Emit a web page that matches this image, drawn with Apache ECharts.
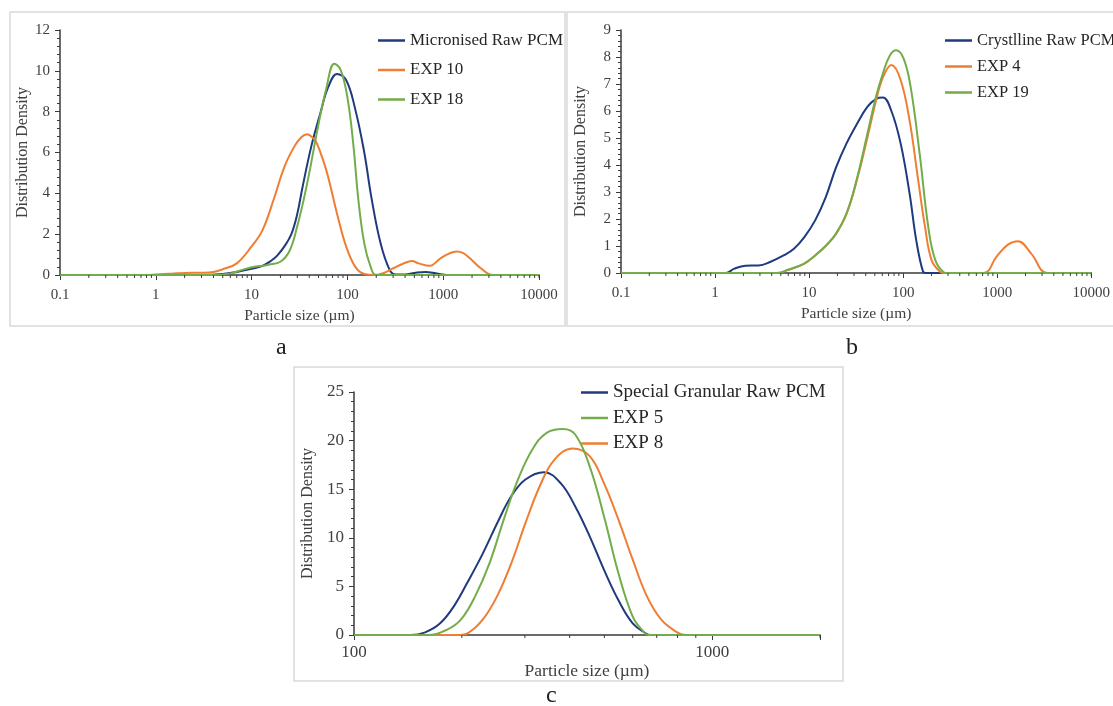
<!DOCTYPE html>
<html>
<head>
<meta charset="utf-8">
<script src="https://cdn.jsdelivr.net/npm/echarts@6/dist/echarts.min.js"></script>
<style>
html,body{margin:0;padding:0;background:#fff;}
#chart{width:1113px;height:706px;}
</style>
</head>
<body>
<div id="chart"></div>
<script>
// ---------- DATA (particle size in µm, distribution density) ----------
const aRawName = 'Micronised Raw PCM';
const aRaw = [[0.1,0],[3,0],[5,0.05],[7,0.15],[10,0.3],[13,0.45],[16,0.7],[18.5,0.95],[22,1.4],[26,2.0],[30,3.0],[34,4.3],[42,6.3],[52,7.9],[63,9.2],[78,9.85],[97,9.55],[121,8.1],[150,6.0],[178,3.8],[222,1.55],[276,0.25],[320,0.02],[400,0.03],[500,0.1],[650,0.15],[850,0.08],[1100,0],[10000,0]];
const aExp10Name = 'EXP 10';
const aExp10 = [[0.1,0],[0.8,0],[1,0.03],[1.5,0.07],[2,0.1],[3,0.11],[4,0.15],[5,0.28],[7,0.57],[10,1.4],[13,2.2],[17,3.7],[22,5.3],[28,6.3],[33,6.75],[38,6.9],[44,6.7],[48,6.45],[56,5.6],[63,4.8],[78,3.0],[97,1.4],[121,0.4],[150,0.05],[195,0],[240,0.1],[300,0.33],[380,0.55],[470,0.68],[555,0.57],[720,0.45],[940,0.82],[1150,1.05],[1380,1.15],[1600,1.08],[1900,0.82],[2470,0.33],[3300,0],[10000,0]];
const aExp18Name = 'EXP 18';
const aExp18 = [[0.1,0],[4,0],[6,0.08],[8,0.25],[10,0.38],[13,0.45],[15,0.5],[20,0.65],[25,1.2],[30,2.4],[35,3.7],[40,5.0],[50,7.4],[60,9.1],[73,10.35],[85,10.05],[100,8.7],[115,6.45],[130,3.7],[150,1.55],[175,0.4],[200,0],[10000,0]];

const bRawName = 'Crystlline Raw PCM';
const bRaw = [[0.1,0],[1.3,0],[1.6,0.16],[2.1,0.27],[2.9,0.28],[3.8,0.4],[5.35,0.65],[6.9,0.9],[8.9,1.33],[11.6,1.95],[15,2.8],[19.3,3.9],[25,4.8],[32,5.5],[41.6,6.15],[51.6,6.45],[61,6.5],[75,6.0],[94,4.8],[117,2.95],[138,1.2],[163,0.04],[175,0],[10000,0]];
const bExp4Name = 'EXP 4';
const bExp4 = [[0.1,0],[4.5,0],[6,0.12],[8.9,0.35],[11.6,0.65],[15,1.0],[19.3,1.45],[25,2.2],[32,3.4],[41.6,5.0],[51.6,6.4],[61,7.25],[75,7.7],[94,7.15],[117,5.65],[145,3.4],[171,1.7],[201,0.47],[250,0.03],[270,0],[720,0],[980,0.6],[1300,1.05],[1660,1.18],[2300,0.72],[3430,0],[10000,0]];
const bExp19Name = 'EXP 19';
const bExp19 = [[0.1,0],[4.5,0],[6,0.12],[8.9,0.35],[11.6,0.65],[15,1.0],[19.3,1.45],[25,2.2],[32,3.45],[41.6,5.15],[51.6,6.55],[61,7.4],[72,8.05],[84,8.25],[101,7.95],[120,6.9],[150,4.4],[185,1.7],[220,0.47],[272,0.02],[290,0],[10000,0]];

const cRawName = 'Special Granular Raw PCM';
const cRaw = [[100,0],[144,0],[158,0.27],[174,1.2],[190,2.95],[208,5.5],[229,8.4],[251,11.5],[275,14.3],[301,16.0],[339,16.75],[378,15.6],[415,13.2],[455,10.15],[499,6.7],[547,3.6],[600,1.2],[657,0.1],[670,0],[2000,0]];
const cExp5Name = 'EXP 5';
const cExp5 = [[100,0],[160,0],[182,0.55],[199,1.6],[218,4.0],[239,7.4],[262,11.9],[287,16.0],[315,19.1],[345,20.8],[383,21.2],[415,20.6],[455,17.35],[499,12.2],[547,6.4],[600,1.9],[642,0.38],[664,0],[2000,0]];
const cExp8Name = 'EXP 8';
const cExp8 = [[100,0],[195,0],[208,0.2],[229,1.6],[251,4.0],[275,7.4],[301,11.5],[330,15.3],[362,18.0],[408,19.2],[455,18.4],[499,15.6],[547,11.9],[600,7.75],[657,4.0],[720,1.6],[790,0.38],[845,0],[2000,0]];

// axis ranges / labels
const aXRange = [0.1, 10000], aYRange = [0, 12], aYStep = 2;
const bXRange = [0.1, 10000], bYRange = [0, 9], bYStep = 1;
const cXRange = [100, 2000], cYRange = [0, 25], cYStep = 5;
const xTitle = 'Particle size (µm)';
const yTitle = 'Distribution Density';
const panelLabels = ['a', 'b', 'c'];

// ---------- STYLE ----------
const NAVY = '#1f3a7e', ORANGE = '#ef7d32', GREEN = '#72ad4a';
const FONT = 'Liberation Serif';
const TXT = '#404040';
const AX = '#3a3a3a';

function minorLogTicks(range) {
  const out = [];
  const lo = Math.floor(Math.log10(range[0])), hi = Math.ceil(Math.log10(range[1]));
  for (let e = lo; e < hi; e++) {
    for (let m = 2; m <= 9; m++) {
      const v = m * Math.pow(10, e);
      if (v > range[0] && v < range[1]) out.push([v, 0]);
    }
  }
  out.push([range[1], 0]);
  return out;
}

function xAxisCfg(gi, range, fs, nameFs, nameGap, margin) {
  return {
    type: 'log', logBase: 10, gridIndex: gi, min: range[0], max: range[1],
    name: xTitle, nameLocation: 'middle', nameGap: nameGap,
    nameTextStyle: {fontFamily: FONT, fontSize: nameFs, color: TXT},
    axisLine: {show: true, onZero: false, lineStyle: {color: AX, width: 1.5}},
    axisTick: {show: true, length: 5, lineStyle: {color: AX}},
    axisLabel: {fontFamily: FONT, fontSize: fs, color: TXT, margin: margin,
      formatter: function (v) {
        const l = Math.log10(v);
        if (Math.abs(l - Math.round(l)) > 1e-6) return '';
        const r = Math.round(l);
        return r < 0 ? String(Math.pow(10, r).toFixed(-r)) : String(Math.pow(10, r));
      }},
    splitLine: {show: false}
  };
}
function yAxisCfg(gi, range, step, fs, nameFs, nameGap) {
  return {
    type: 'value', gridIndex: gi, min: range[0], max: range[1], interval: step,
    name: yTitle, nameLocation: 'middle', nameGap: nameGap,
    nameTextStyle: {fontFamily: FONT, fontSize: nameFs, color: TXT},
    axisLine: {show: true, lineStyle: {color: AX, width: 1.5}},
    axisTick: {show: true, length: 5, lineStyle: {color: AX}},
    minorTick: {show: true, splitNumber: 5, length: 3, lineStyle: {color: AX}},
    axisLabel: {fontFamily: FONT, fontSize: fs, color: TXT, margin: 10},
    splitLine: {show: false}
  };
}
function lineSeries(name, data, color, idx) {
  return {
    name: name, type: 'line', xAxisIndex: idx, yAxisIndex: idx,
    data: data, smooth: 0.4, symbol: 'none', showSymbol: false,
    lineStyle: {color: color, width: 2}, itemStyle: {color: color},
    z: 3, animation: false
  };
}
function tickSeries(range, idx) {
  return {
    type: 'custom', xAxisIndex: idx, yAxisIndex: idx, silent: true, animation: false, z: 4,
    data: minorLogTicks(range),
    renderItem: function (params, api) {
      const p = api.coord([api.value(0), api.value(1)]);
      return {type: 'line', shape: {x1: p[0], y1: p[1], x2: p[0], y2: p[1] + 3},
        style: {stroke: AX, lineWidth: 1}};
    }
  };
}
function legendCfg(names, left, top, fs, gap, iw) {
  return {
    data: names, orient: 'vertical', left: left, top: top, itemGap: gap,
    itemWidth: iw, itemHeight: 2.5, icon: 'rect', selectedMode: false,
    textStyle: {fontFamily: FONT, fontSize: fs, color: '#262626', lineHeight: fs}
  };
}

const chart = echarts.init(document.getElementById('chart'), null, {renderer: 'canvas'});
const option = {
  backgroundColor: '#ffffff',
  animation: false,
  grid: [
    {left: 60, top: 30, width: 479, height: 245},
    {left: 621, top: 30, width: 475, height: 243},
    {left: 354, top: 392, width: 466, height: 243}
  ],
  xAxis: [
    xAxisCfg(0, aXRange, 15, 15.5, 33, 13),
    xAxisCfg(1, bXRange, 15, 15.5, 33, 13),
    xAxisCfg(2, cXRange, 17, 17.5, 27, 9)
  ],
  yAxis: [
    yAxisCfg(0, aYRange, aYStep, 15, 16, 28),
    yAxisCfg(1, bYRange, bYStep, 15, 16, 32),
    yAxisCfg(2, cYRange, cYStep, 17, 16, 38)
  ],
  legend: [
    legendCfg([aRawName, aExp10Name, aExp18Name], 373, 27, 17, 12.5, 27),
    legendCfg([bRawName, bExp4Name, bExp19Name], 940, 27, 16.5, 9, 27),
    legendCfg([cRawName, cExp5Name, cExp8Name], 576, 378, 19, 6.5, 27)
  ],
  series: [
    lineSeries(aRawName, aRaw, NAVY, 0),
    lineSeries(aExp10Name, aExp10, ORANGE, 0),
    lineSeries(aExp18Name, aExp18, GREEN, 0),
    tickSeries(aXRange, 0),
    lineSeries(bRawName, bRaw, NAVY, 1),
    lineSeries(bExp4Name, bExp4, ORANGE, 1),
    lineSeries(bExp19Name, bExp19, GREEN, 1),
    tickSeries(bXRange, 1),
    lineSeries(cRawName, cRaw, NAVY, 2),
    lineSeries(cExp8Name, cExp8, ORANGE, 2),
    lineSeries(cExp5Name, cExp5, GREEN, 2),
    tickSeries(cXRange, 2)
  ],
  graphic: [
    {type: 'rect', shape: {x: 10, y: 12, width: 555, height: 314}, style: {fill: 'none', stroke: '#d9d9d9', lineWidth: 1.5}, silent: true, z: -1},
    {type: 'rect', shape: {x: 567, y: 12, width: 560, height: 314}, style: {fill: 'none', stroke: '#d9d9d9', lineWidth: 1.5}, silent: true, z: -1},
    {type: 'rect', shape: {x: 294, y: 367, width: 549, height: 314}, style: {fill: 'none', stroke: '#d9d9d9', lineWidth: 1.5}, silent: true, z: -1},
    {type: 'text', left: 276, top: 336, style: {text: panelLabels[0], font: '24px "Liberation Serif"', fill: '#222'}},
    {type: 'text', left: 846, top: 336, style: {text: panelLabels[1], font: '24px "Liberation Serif"', fill: '#222'}},
    {type: 'text', left: 546, top: 684, style: {text: panelLabels[2], font: '24px "Liberation Serif"', fill: '#222'}}
  ]
};
chart.setOption(option);
</script>
</body>
</html>
